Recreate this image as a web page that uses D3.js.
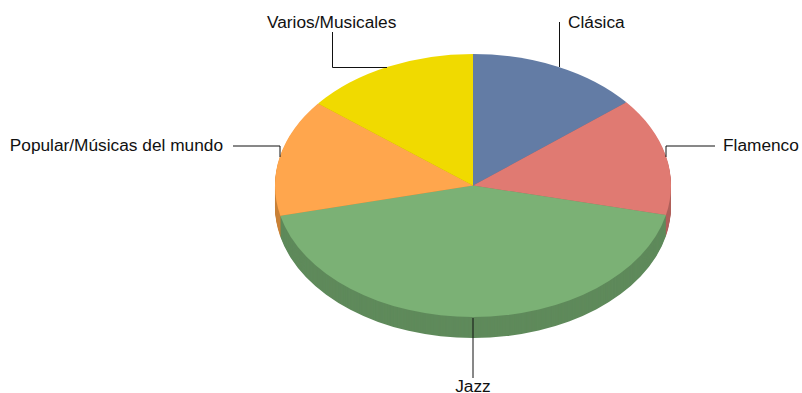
<!DOCTYPE html>
<html><head><meta charset="utf-8">
<script src="https://cdn.jsdelivr.net/npm/d3@7"></script>
<style>html,body{margin:0;background:#fff}svg{display:block}text{font-family:"Liberation Sans",Arial,sans-serif;font-size:17.3px;fill:#111}</style>
</head><body><svg width="802" height="393"></svg>
<script>
const categories=["Clásica","Flamenco","Jazz","Popular/Músicas del mundo","Varios/Musicales"];
const values=[14.1,14.5,42.7,14.4,14.3];
const colors=["#637ca5","#e07a72","#7bb175","#ffa64d","#f0da00"];
const sideColors=["#4f6384","#b0605b","#5f8a5b","#c98238","#c0ae00"];
const drawOrder=[0,4,1,3,2];
const labelX=[568,723,473,223,267];
const labelY=[28,151,392,151,28];
const labelAnchor=["start","start","middle","end","start"];
const leaders=[[[559.5,22],[559.5,67]],[[715,146],[666,146],[666,157]],[[473,318],[473,378]],[[233,146],[280,146],[280,157]],[[332.5,32],[332.5,67.5],[387,67.5]]];
const cx=473,cy=185.5,rx=198,ry=131.5,depth=21;
const svg=d3.select("svg");
const pie=d3.pie().sort(null).value(d=>d)(values);
const arc=d3.arc().innerRadius(0).outerRadius(rx);
const yScale=ry/rx;
const layers=d3.range(depth,0,-1);
const side=svg.append("g");
layers.forEach(dy=>{
  const g=side.append("g").attr("transform",`translate(${cx},${cy+dy}) scale(1,${yScale})`);
  drawOrder.forEach(i=>g.append("path").attr("d",arc(pie[i])).attr("fill",sideColors[i]));
});
svg.append("g").attr("transform",`translate(${cx},${cy}) scale(1,${yScale})`)
  .selectAll("path").data(pie).join("path").attr("d",arc).attr("fill",(d,i)=>colors[i]);
const line=d3.line();
svg.append("g").selectAll("path").data(leaders).join("path").attr("d",line)
  .attr("fill","none").attr("stroke","#111").attr("stroke-width",1);
svg.append("g").selectAll("text").data(categories).join("text")
  .attr("x",(d,i)=>labelX[i]).attr("y",(d,i)=>labelY[i]).attr("text-anchor",(d,i)=>labelAnchor[i]).text(d=>d);
</script></body></html>
